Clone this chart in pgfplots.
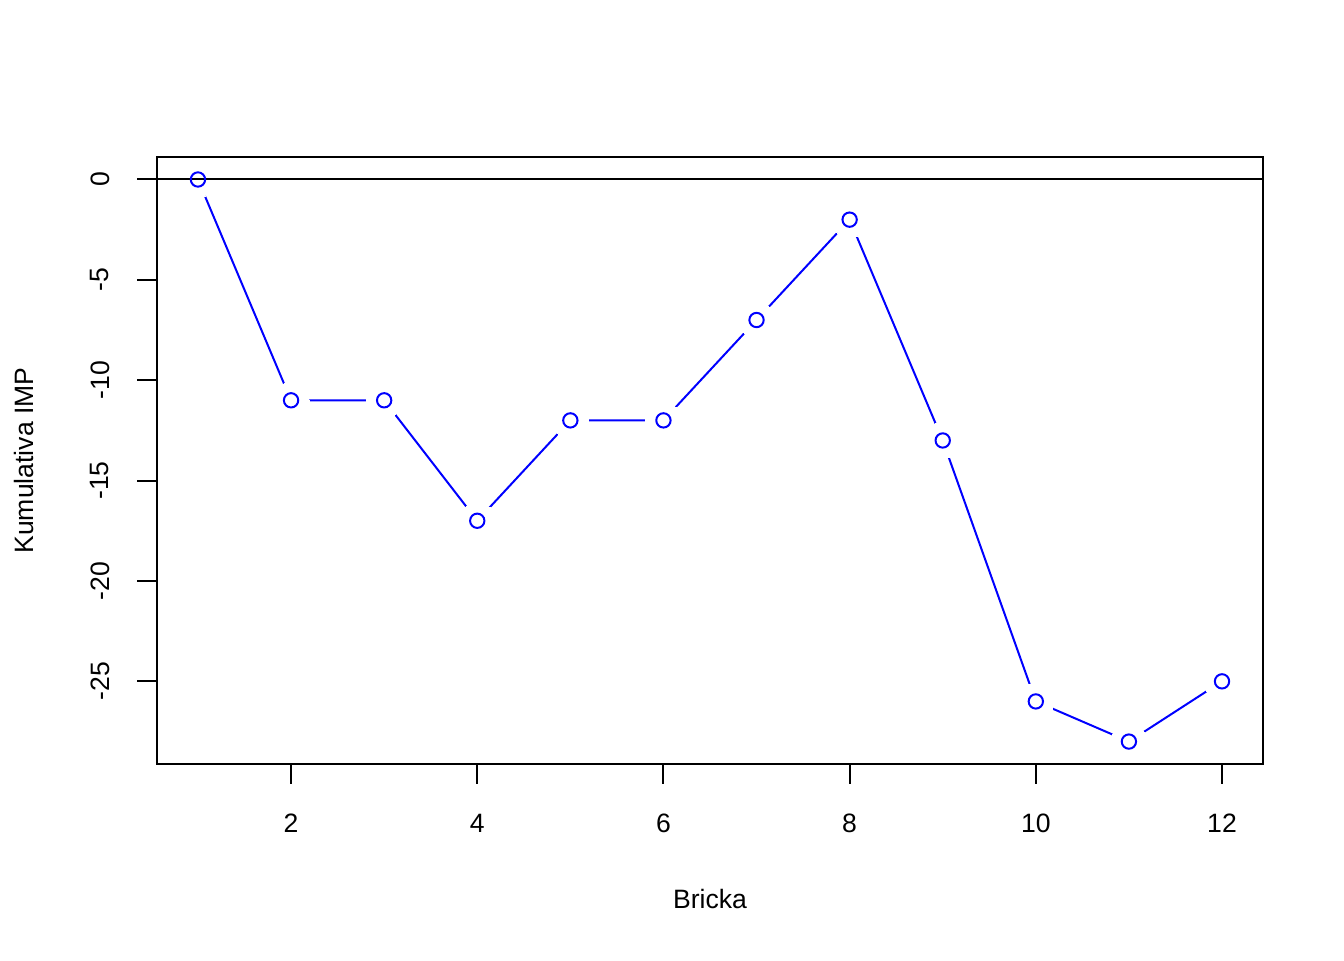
\documentclass[border=0pt]{standalone}
\usepackage{fontspec}
\setmainfont{Liberation Sans}
\usepackage{pgfplots}
\pgfplotsset{compat=1.18}
\usetikzlibrary{calc}

\pgfplotstableread{
x y
1 0
2 -11
3 -11
4 -17
5 -12
6 -12
7 -7
8 -2
9 -13
10 -26
11 -28
12 -25
}\imp

\begin{document}
\fontsize{10pt}{12pt}\selectfont
\begin{tikzpicture}
\begin{axis}[
    scale only axis,
    width=416.3pt, height=228.5pt,
    xmin=0.56, xmax=12.44,
    ymin=-29.12, ymax=1.12,
    axis line style={line width=0.75pt},
    every tick/.style={black, line width=0.75pt},
    tick align=outside,
    major tick length=7.5pt,
    xtick={2,4,6,8,10,12},
    ytick={-25,-20,-15,-10,-5,0},
    yticklabels={{-25},{-20},{-15},{-10},{-5},{0}},
    xticklabels={2,4,6,8,10,12},
    xtick pos=bottom, ytick pos=left,
    xticklabel style={anchor=center, yshift=-14.7pt},
    yticklabel style={rotate=90, anchor=center, yshift=14pt},
    xlabel={Bricka},
    ylabel={Kumulativa IMP},
    xlabel style={anchor=center, at={(0.5,0)}, yshift=-50.8pt},
    every axis y label/.style={at={(0,0.5)}, rotate=90, anchor=center, yshift=50pt},
    clip=true,
    clip marker paths=true,
]
\addplot[blue, line width=0.75pt] table {\imp};
\addplot[only marks, mark=*, mark size=6.8pt,
    mark options={draw=white, fill=white, line width=0pt}] table {\imp};
\addplot[black, line width=0.75pt] coordinates {(0.56,0) (12.44,0)};
\addplot[blue, only marks, mark=o, mark size=2.7pt,
    mark options={line width=0.75pt}] table {\imp};
\path (rel axis cs:0,0) coordinate (sw) (rel axis cs:1,1) coordinate (ne);
\end{axis}
\pgfresetboundingbox
\useasboundingbox ($(sw)+(-59.1pt,-73.8pt)$) rectangle ($(ne)+(30.5pt,59.1pt)$);
\end{tikzpicture}
\end{document}
